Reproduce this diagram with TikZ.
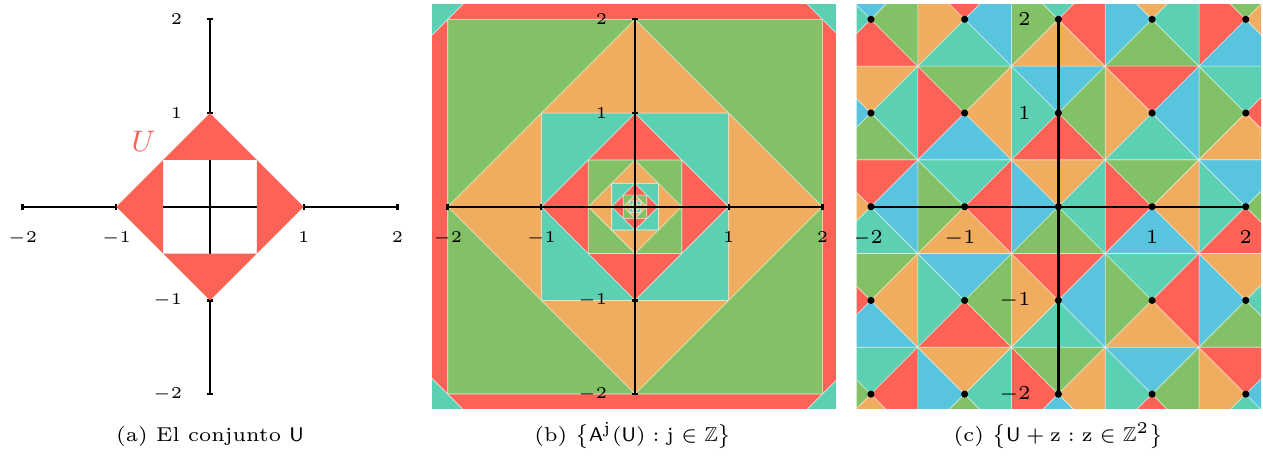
\documentclass[tikz,border=0pt]{standalone}
\usepackage{amsmath}
\usepackage{amssymb}
\definecolor{cRed}{HTML}{FC6255}
\definecolor{cTeal}{HTML}{5CD0B3}
\definecolor{cGold}{HTML}{F0AC5F}
\definecolor{cGreen}{HTML}{83C167}
\definecolor{cBlue}{HTML}{58C4DD}
\colorlet{pal0}{cRed}
\colorlet{pal1}{cTeal}
\colorlet{pal2}{cGold}
\colorlet{pal3}{cGreen}
\colorlet{pal4}{cBlue}
\tikzset{
  tile/.style={draw=white, draw opacity=0.45, line width=0.25pt},
  axisline/.style={line width=0.7pt, black},
  ticklbl/.style={inner sep=0pt, font=\fontsize{4.3}{5}\selectfont},
  bigticklbl/.style={inner sep=0pt, font=\fontsize{5.7}{6.5}\selectfont},
  caption/.style={anchor=base, inner sep=0pt, font=\fontsize{6.1}{7}\selectfont},
  latdot/.style={black}
}
\begin{document}
\begin{tikzpicture}[x=1cm,y=1cm]
\fill[white] (0,0) rectangle (13.479,-4.888);
\useasboundingbox (0,0) rectangle (13.479,-4.888);

% ---------------- panel (a)
\begin{scope}[shift={(2.241,-2.206)}]
  \draw[axisline] (-2,0) -- (2,0);
  \draw[axisline] (0,-2) -- (0,2);
  \foreach \t in {-2,-1,1,2}{
    \draw[axisline] (\t,-0.03) -- (\t,0.03);
    \draw[axisline] (-0.03,\t) -- (0.03,\t);
  }
  \fill[cRed] (-0.5,0.5) -- (0.5,0.5) -- (0,1) -- cycle;
  \fill[cRed] (-0.5,-0.5) -- (0.5,-0.5) -- (0,-1) -- cycle;
  \fill[cRed] (0.5,0.5) -- (0.5,-0.5) -- (1,0) -- cycle;
  \fill[cRed] (-0.5,0.5) -- (-0.5,-0.5) -- (-1,0) -- cycle;
  \node[text=cRed, inner sep=0pt, font=\fontsize{9.2}{10}\selectfont] (ulabel) at (-0.708,0.698) {$U$};
  \node[ticklbl, anchor=north] (ax1) at (-2,-0.26) {$-2$};
  \node[ticklbl, anchor=north] (ax2) at (-1,-0.26) {$-1$};
  \node[ticklbl, anchor=north] (ax3) at (1,-0.26) {$1$};
  \node[ticklbl, anchor=north] (ax4) at (2,-0.26) {$2$};
  \node[ticklbl, anchor=east] (ay1) at (-0.29,2) {$2$};
  \node[ticklbl, anchor=east] (ay2) at (-0.29,1) {$1$};
  \node[ticklbl, anchor=east] (ay3) at (-0.29,-1) {$-1$};
  \node[ticklbl, anchor=east] (ay4) at (-0.29,-2) {$-2$};
\end{scope}
\node[caption] (capa) at (2.241,-4.712) {(a) El conjunto $\mathsf{U}$};

% ---------------- panel (b)
\begin{scope}[shift={(6.777,-2.206)}]
  \begin{scope}
    \clip (-2.165,-2.152) rectangle (2.143,2.153);
    \foreach \j in {-12,...,5}{
      \pgfmathtruncatemacro{\ci}{mod(mod(\j,4)+4,4)}
      \pgfmathtruncatemacro{\jpar}{mod(mod(\j,2)+2,2)}
      \pgfmathsetmacro{\rr}{2^(floor(\j/2))}
      \pgfmathsetmacro{\ss}{\rr/2}
      \ifnum\jpar=0
        \filldraw[tile, fill=pal\ci] (-\ss,\ss) -- (\ss,\ss) -- (0,\rr) -- cycle;
        \filldraw[tile, fill=pal\ci] (-\ss,-\ss) -- (\ss,-\ss) -- (0,-\rr) -- cycle;
        \filldraw[tile, fill=pal\ci] (\ss,\ss) -- (\ss,-\ss) -- (\rr,0) -- cycle;
        \filldraw[tile, fill=pal\ci] (-\ss,\ss) -- (-\ss,-\ss) -- (-\rr,0) -- cycle;
      \else
        \filldraw[tile, fill=pal\ci] (\rr,\rr) -- (0,\rr) -- (\rr,0) -- cycle;
        \filldraw[tile, fill=pal\ci] (-\rr,\rr) -- (0,\rr) -- (-\rr,0) -- cycle;
        \filldraw[tile, fill=pal\ci] (-\rr,-\rr) -- (0,-\rr) -- (-\rr,0) -- cycle;
        \filldraw[tile, fill=pal\ci] (\rr,-\rr) -- (0,-\rr) -- (\rr,0) -- cycle;
      \fi
    }
  \end{scope}
  \draw[axisline] (-2,0) -- (2,0);
  \draw[axisline] (0,-2) -- (0,2);
  \foreach \t in {-2,-1,1,2}{
    \draw[axisline] (\t,-0.03) -- (\t,0.03);
    \draw[axisline] (-0.03,\t) -- (0.03,\t);
  }
  \node[ticklbl, anchor=north] (bx1) at (-2,-0.26) {$-2$};
  \node[ticklbl, anchor=north] (bx2) at (-1,-0.26) {$-1$};
  \node[ticklbl, anchor=north] (bx3) at (1,-0.26) {$1$};
  \node[ticklbl, anchor=north] (bx4) at (2,-0.26) {$2$};
  \node[ticklbl, anchor=east] (by1) at (-0.29,2) {$2$};
  \node[ticklbl, anchor=east] (by2) at (-0.29,1) {$1$};
  \node[ticklbl, anchor=east] (by3) at (-0.29,-1) {$-1$};
  \node[ticklbl, anchor=east] (by4) at (-0.29,-2) {$-2$};
\end{scope}
\node[caption] (capb) at (6.755,-4.712) {(b) $\big\{\mathsf{A}^{\mathrm{j}}(\mathsf{U}) : \mathrm{j} \in \mathbb{Z}\big\}$};

% ---------------- panel (c)
\begin{scope}[shift={(11.295,-2.206)}]
  \begin{scope}
    \clip (-2.152,-2.152) rectangle (2.163,2.153);
    \foreach \zx in {-3,...,3}{
      \foreach \zy in {-3,...,3}{
        \pgfmathtruncatemacro{\ci}{mod(mod(\zx+2*\zy,5)+5,5)}
        \begin{scope}[shift={(\zx,\zy)}]
          \filldraw[tile, fill=pal\ci] (-0.5,0.5) -- (0.5,0.5) -- (0,1) -- cycle;
          \filldraw[tile, fill=pal\ci] (-0.5,-0.5) -- (0.5,-0.5) -- (0,-1) -- cycle;
          \filldraw[tile, fill=pal\ci] (0.5,0.5) -- (0.5,-0.5) -- (1,0) -- cycle;
          \filldraw[tile, fill=pal\ci] (-0.5,0.5) -- (-0.5,-0.5) -- (-1,0) -- cycle;
        \end{scope}
      }
    }
    \draw[axisline] (-2,0) -- (2,0);
    \draw[axisline] (0,-2) -- (0,2);
    \foreach \px in {-2,...,2}{
      \foreach \py in {-2,...,2}{
        \fill[latdot] (\px,\py) circle (0.038);
      }
    }
    \node[bigticklbl, anchor=north] (cx1) at (-2.04,-0.25) {$-2$};
    \node[bigticklbl, anchor=north] (cx2) at (-1.05,-0.25) {$-1$};
    \node[bigticklbl, anchor=north] (cx3) at (1,-0.25) {$1$};
    \node[bigticklbl, anchor=north] (cx4) at (2,-0.25) {$2$};
    \node[bigticklbl, anchor=east] (cy1) at (-0.29,2) {$2$};
    \node[bigticklbl, anchor=east] (cy2) at (-0.29,1) {$1$};
    \node[bigticklbl, anchor=east] (cy3) at (-0.29,-1) {$-1$};
    \node[bigticklbl, anchor=east] (cy4) at (-0.29,-2) {$-2$};
  \end{scope}
\end{scope}
\node[caption] (capc) at (11.295,-4.712) {(c) $\big\{\mathsf{U} + \mathrm{z} : \mathrm{z} \in \mathbb{Z}^2\big\}$};
\end{tikzpicture}
\end{document}
